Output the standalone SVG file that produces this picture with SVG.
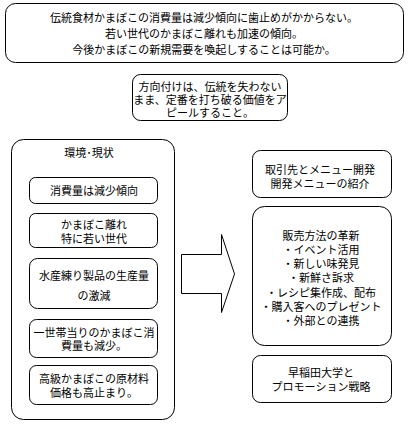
<svg xmlns="http://www.w3.org/2000/svg" width="409" height="426" viewBox="0 0 409 426">
<style>
.b{fill:#fff;stroke:#000;stroke-width:1}
text{font-family:"Noto Sans CJK JP","Noto Sans CJK SC",sans-serif;font-size:11px;fill:#000;text-anchor:middle;dominant-baseline:central}
</style>
<rect width="409" height="426" fill="#fff"/>
<g id="question">
<rect class="b" x="5.5" y="3.5" width="398" height="59" rx="10"/>
<text x="204" y="17">伝統食材かまぼこの消費量は減少傾向に歯止めがかからない。</text>
<text x="204" y="33">若い世代のかまぼこ離れも加速の傾向。</text>
<text x="204" y="49">今後かまぼこの新規需要を喚起しすることは可能か。</text>
</g>
<g id="direction">
<rect class="b" x="132.5" y="74.5" width="155" height="46" rx="8"/>
<text x="210" y="86">方向付けは、伝統を失わない</text>
<text x="210" y="99">まま、定番を打ち破る価値をア</text>
<text x="210" y="112">ピールすること。</text>
</g>
<g id="environment">
<rect class="b" x="11.5" y="139.5" width="163" height="280" rx="12"/>
<text x="89" y="152">環境･現状</text>
</g>
<g id="env1">
<rect class="b" x="29.5" y="177.5" width="128" height="26" rx="6"/>
<text x="94" y="190">消費量は減少傾向</text>
</g>
<g id="env2">
<rect class="b" x="29.5" y="213.5" width="128" height="34" rx="6"/>
<text x="94" y="224">かまぼこ離れ</text>
<text x="94" y="238">特に若い世代</text>
</g>
<g id="env3">
<rect class="b" x="29.5" y="258.5" width="128" height="50" rx="8"/>
<text x="94" y="275">水産練り製品の生産量</text>
<text x="94" y="295">の激減</text>
</g>
<g id="env4">
<rect class="b" x="29.5" y="319.5" width="128" height="38" rx="7"/>
<text x="94" y="332">一世帯当りのかまぼこ消</text>
<text x="94" y="345">費量も減少。</text>
</g>
<g id="env5">
<rect class="b" x="29.5" y="365.5" width="128" height="39" rx="7"/>
<text x="94" y="378">高級かまぼこの原材料</text>
<text x="94" y="392">価格も高止まり。</text>
</g>
<g id="connectors">
<path class="b" d="M181.5,254.5 H221.5 V234.5 L234.5,274 L221.5,312.5 V293.5 H181.5 Z"/>
</g>
<g id="menu">
<rect class="b" x="252.5" y="150.5" width="139" height="47" rx="8"/>
<text x="320" y="169">取引先とメニュー開発</text>
<text x="320" y="183">開発メニューの紹介</text>
</g>
<g id="sales">
<rect class="b" x="252.5" y="206.5" width="139" height="139" rx="12"/>
<text x="321" y="235">販売方法の革新</text>
<text x="321" y="249">・イベント活用</text>
<text x="321" y="263">・新しい味発見</text>
<text x="321" y="277">・新鮮さ訴求</text>
<text x="321" y="292">・レシピ集作成、配布</text>
<text x="321" y="306">・購入客へのプレゼント</text>
<text x="321" y="320">・外部との連携</text>
</g>
<g id="promotion">
<rect class="b" x="252.5" y="355.5" width="139" height="47" rx="8"/>
<text x="321" y="372">早稲田大学と</text>
<text x="321" y="386">プロモーション戦略</text>
</g>
</svg>
